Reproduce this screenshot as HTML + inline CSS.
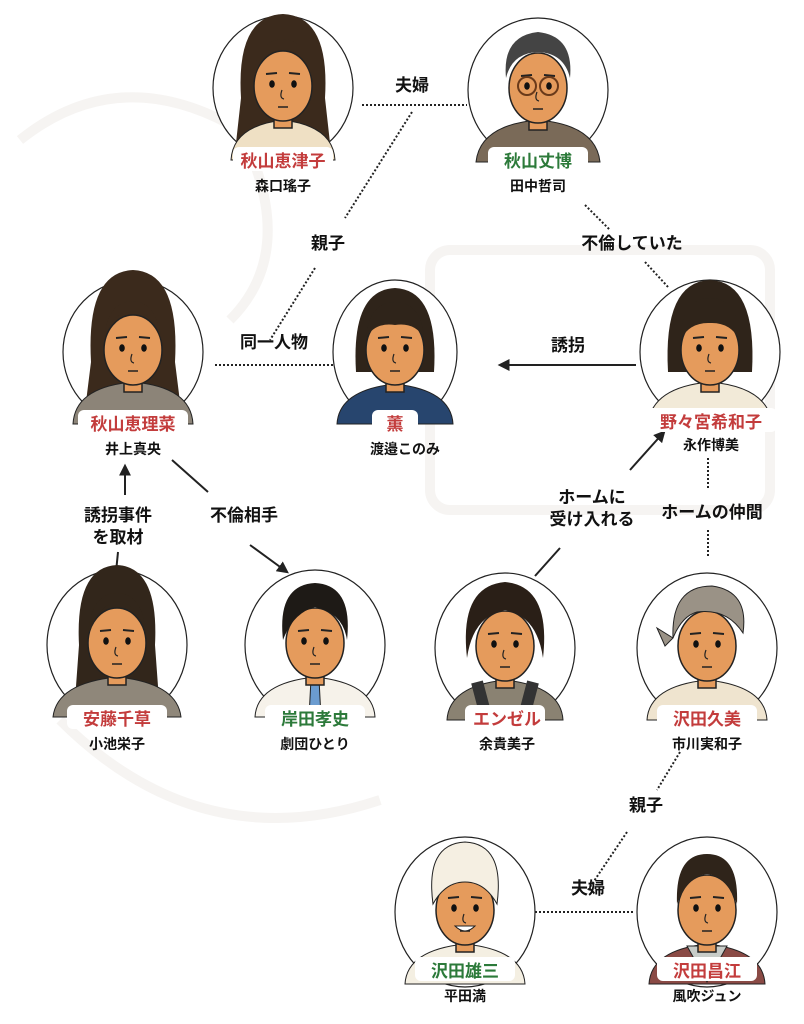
<!DOCTYPE html>
<html><head><meta charset="utf-8"><style>
html,body{margin:0;padding:0;background:#fff;}
svg{display:block}
text{font-family:"Liberation Sans","Noto Sans CJK JP",sans-serif;font-weight:bold;text-anchor:middle}
.n{font-size:17px}.r{fill:#c33c3c}.g{fill:#2c7a3a}.a{font-size:14px;fill:#111}.l{font-size:17px;fill:#111}
.c{fill:#fff;stroke:#222;stroke-width:1.2}
.d{stroke:#222;stroke-width:2;stroke-dasharray:2 2;fill:none}
.s{stroke:#222;stroke-width:2;fill:none}
.f{fill:#e59b5c;stroke:#222;stroke-width:1.5}
</style></head><body>
<svg width="804" height="1024" viewBox="0 0 804 1024" xmlns="http://www.w3.org/2000/svg">
<defs>
<marker id="ar" viewBox="0 0 10 10" refX="8" refY="5" markerWidth="6" markerHeight="6" orient="auto"><path d="M0,0 L10,5 L0,10 Z" fill="#222"/></marker>
<g id="face">
<rect x="-9" y="22" width="18" height="18" class="f"/>
<ellipse cx="0" cy="-2" rx="29" ry="35" class="f"/>
<ellipse cx="-11" cy="-4" rx="2.8" ry="3.8" fill="#111"/><ellipse cx="11" cy="-4" rx="2.8" ry="3.8" fill="#111"/>
<path d="M-17,-14 L-6,-15 M6,-15 L17,-14" stroke="#222" stroke-width="2"/>
<path d="M-1,2 Q-4,10 1,11" stroke="#222" fill="none" stroke-width="1.2"/>
<path d="M-5,19 L5,19" stroke="#222" stroke-width="1.5"/>
</g>
</defs>
<!-- faint watermark -->
<g fill="none" stroke="#f6f4f2" stroke-width="10">
<path d="M20,140 Q120,60 240,130 Q300,250 230,320"/>
<rect x="430" y="250" width="340" height="260" rx="20"/>
<path d="M60,720 Q200,860 380,800"/>
</g>

<!-- connectors -->
<path class="d" d="M362,105 L467,105"/>
<path class="d" d="M412,112 L345,218 M315,268 L270,340"/>
<path class="d" d="M585,205 L610,230 M645,262 L668,287"/>
<path class="d" d="M215,365 L333,365"/>
<path class="s" d="M636,365 L500,365" marker-end="url(#ar)"/>
<path class="s" d="M535,576 L560,548 M630,470 L664,432" marker-end="url(#ar)"/>
<path class="d" d="M708,458 L708,490 M708,530 L708,558"/>
<path class="s" d="M125,495 L125,466" marker-end="url(#ar)"/>
<path class="s" d="M118,552 L116,572"/>
<path class="s" d="M172,460 L208,492 M250,545 L287,572" marker-end="url(#ar)"/>
<path class="d" d="M680,752 L657,790 M627,832 L588,890"/>
<path class="d" d="M535,912 L635,912"/>

<!-- labels -->
<text class="l" x="412" y="91">夫婦</text>
<text class="l" x="328" y="249">親子</text>
<text class="l" x="632" y="249">不倫していた</text>
<text class="l" x="274" y="348">同一人物</text>
<text class="l" x="568" y="351">誘拐</text>
<text class="l" x="592" y="503">ホームに</text>
<text class="l" x="592" y="525">受け入れる</text>
<text class="l" x="712" y="518">ホームの仲間</text>
<text class="l" x="118" y="521">誘拐事件</text>
<text class="l" x="118" y="543">を取材</text>
<text class="l" x="244" y="521">不倫相手</text>
<text class="l" x="646" y="811">親子</text>
<text class="l" x="588" y="894">夫婦</text>

<g transform="translate(283,88)">
<ellipse class="c" cx="0" cy="0" rx="70" ry="72"/>
<path d="M-42,10 Q-47,-72 0,-74 Q47,-72 42,10 L47,55 L-47,55 Z" fill="#3b2a1c"/>
<path d="M-52,72 Q-50,38 0,32 Q50,38 52,72 Z" fill="#efe0c4" stroke="#222"/>
<use href="#face"/>
<path d="M-29,-10 Q-20,-42 5,-38 Q22,-36 29,-10 Q24,-48 0,-49 Q-27,-48 -29,-10Z" fill="#3b2a1c"/>
</g>
<g transform="translate(538,90)">
<ellipse class="c" cx="0" cy="0" rx="70" ry="72"/>
<path d="M-62,72 Q-58,35 0,30 Q58,35 62,72 Z" fill="#7a6a58" stroke="#222"/>
<use href="#face"/>
<path d="M-32,-12 Q-36,-54 0,-58 Q36,-54 32,-12 Q26,-37 0,-38 Q-26,-37 -32,-12Z" fill="#444"/>
<circle cx="-11" cy="-4" r="9" fill="none" stroke="#6a3a1a" stroke-width="2"/><circle cx="11" cy="-4" r="9" fill="none" stroke="#6a3a1a" stroke-width="2"/>
</g>
<g transform="translate(133,352)">
<ellipse class="c" cx="0" cy="0" rx="70" ry="72"/>
<path d="M-42,10 Q-47,-80 0,-82 Q47,-80 42,10 L47,50 L-47,50 Z" fill="#3b2a1c"/>
<path d="M-60,72 Q-58,35 0,30 Q58,35 60,72 Z" fill="#8c8478" stroke="#222"/>
<use href="#face"/>
<path d="M-29,-10 Q-22,-44 5,-40 Q22,-36 29,-10 Q24,-50 0,-51 Q-27,-50 -29,-10Z" fill="#3b2a1c"/>
</g>
<g transform="translate(395,352)">
<ellipse class="c" cx="0" cy="0" rx="62" ry="72"/>
<path d="M-39,20 Q-44,-62 0,-64 Q44,-62 39,20 Z" fill="#2f241a"/>
<path d="M-58,72 Q-56,38 0,32 Q56,38 58,72 Z" fill="#27456e" stroke="#222"/>
<use href="#face"/>
<path d="M-29,-14 Q-20,-30 0,-27 Q20,-30 29,-14 Q26,-50 0,-50 Q-26,-50 -29,-14Z" fill="#2f241a"/>
</g>
<g transform="translate(710,352)">
<ellipse class="c" cx="0" cy="0" rx="70" ry="72"/>
<path d="M-42,20 Q-47,-70 0,-72 Q47,-70 42,20 Z" fill="#2f241a"/>
<path d="M-62,72 Q-58,35 0,30 Q58,35 62,72 Z" fill="#f2ead8" stroke="#222"/>
<use href="#face"/>
<path d="M-30,-12 Q-20,-30 0,-29 Q20,-30 30,-12 Q28,-54 0,-54 Q-28,-54 -30,-12Z" fill="#2f241a"/>
</g>
<g transform="translate(117,645)">
<ellipse class="c" cx="0" cy="0" rx="70" ry="75"/>
<path d="M-38,0 Q-42,-78 0,-80 Q42,-78 38,0 L42,55 L-42,55 Z" fill="#32261b"/>
<path d="M-64,72 Q-60,38 0,32 Q60,38 64,72 Z" fill="#8f877a" stroke="#222"/>
<use href="#face"/>
<path d="M-29,-10 Q-18,-42 2,-44 Q22,-40 29,-10 Q26,-52 0,-52 Q-26,-52 -29,-10Z" fill="#32261b"/>
</g>
<g transform="translate(315,645)">
<ellipse class="c" cx="0" cy="0" rx="70" ry="75"/>
<path d="M-60,72 Q-58,38 0,32 Q58,38 60,72 Z" fill="#f6f2ea" stroke="#222"/>
<path d="M-4,34 L4,34 L6,72 L-6,72Z" fill="#6b9cd0" stroke="#222"/>
<use href="#face"/>
<path d="M-32,-5 Q-38,-60 0,-62 Q38,-60 32,-5 Q28,-32 0,-38 Q-22,-32 -32,-5Z" fill="#1e1a16"/>
</g>
<g transform="translate(505,648)">
<ellipse class="c" cx="0" cy="0" rx="70" ry="75"/>
<path d="M-58,72 Q-56,38 0,32 Q56,38 58,72 Z" fill="#8a8272" stroke="#222"/>
<path d="M-28,34 L-18,72 M28,34 L18,72" stroke="#333" stroke-width="12"/>
<use href="#face"/>
<path d="M-38,10 Q-46,-62 0,-66 Q46,-62 38,10 Q32,-32 0,-38 Q-32,-32 -38,10Z" fill="#2a1f17"/>
</g>
<g transform="translate(707,648)">
<ellipse class="c" cx="0" cy="0" rx="70" ry="75"/>
<path d="M-60,72 Q-58,38 0,32 Q58,38 60,72 Z" fill="#efe4cf" stroke="#222"/>
<use href="#face"/>
<path d="M-34,-10 Q-36,-62 5,-62 Q42,-57 36,-15 Q20,-40 -10,-36 Q-25,-32 -34,-10Z M-34,-10 L-50,-20 L-42,-2 Z" fill="#9a9286" stroke="#222"/>
</g>
<g transform="translate(465,912)">
<ellipse class="c" cx="0" cy="0" rx="70" ry="75"/>
<path d="M-60,72 Q-58,38 0,32 Q58,38 60,72 Z" fill="#f4efe2" stroke="#222"/>
<use href="#face"/>
<path d="M-32,-8 Q-40,-68 0,-70 Q40,-68 32,-8 Q20,-30 0,-30 Q-20,-30 -32,-8Z" fill="#f5efe2" stroke="#222"/>
<path d="M-10,14 Q0,24 10,14Z" fill="#fff" stroke="#222"/>
</g>
<g transform="translate(707,912)">
<ellipse class="c" cx="0" cy="0" rx="70" ry="75"/>
<path d="M-58,72 Q-56,38 0,32 Q56,38 58,72 Z" fill="#8a4a45" stroke="#222"/>
<path d="M-20,34 L0,70 L20,34 Z" fill="#c8ccc8" stroke="#222"/>
<use href="#face"/>
<path d="M-30,-8 Q-32,-58 0,-58 Q32,-58 30,-8 Q20,-36 0,-38 Q-20,-36 -30,-8Z" fill="#2f241a"/>
</g>

<g fill="#fff">
<rect x="233" y="147" width="100" height="24" rx="6"/>
<rect x="488" y="147" width="100" height="24" rx="6"/>
<rect x="78" y="410" width="110" height="24" rx="6"/>
<rect x="372" y="410" width="46" height="24" rx="6"/>
<rect x="645" y="408" width="132" height="24" rx="6"/>
<rect x="67" y="705" width="100" height="24" rx="6"/>
<rect x="265" y="705" width="100" height="24" rx="6"/>
<rect x="465" y="705" width="80" height="24" rx="6"/>
<rect x="657" y="705" width="100" height="24" rx="6"/>
<rect x="415" y="957" width="100" height="24" rx="6"/>
<rect x="657" y="957" width="100" height="24" rx="6"/>
</g>
<text class="n r" x="283" y="167">秋山恵津子</text><text class="a" x="283" y="191">森口瑤子</text>
<text class="n g" x="538" y="167">秋山丈博</text><text class="a" x="538" y="191">田中哲司</text>
<text class="n r" x="133" y="430">秋山恵理菜</text><text class="a" x="133" y="454">井上真央</text>
<text class="n r" x="395" y="430">薫</text><text class="a" x="405" y="454">渡邉このみ</text>
<text class="n r" x="711" y="428">野々宮希和子</text><text class="a" x="711" y="450">永作博美</text>
<text class="n r" x="117" y="725">安藤千草</text><text class="a" x="117" y="749">小池栄子</text>
<text class="n g" x="315" y="725">岸田孝史</text><text class="a" x="315" y="749">劇団ひとり</text>
<text class="n r" x="507" y="725">エンゼル</text><text class="a" x="507" y="749">余貴美子</text>
<text class="n r" x="707" y="725">沢田久美</text><text class="a" x="707" y="749">市川実和子</text>
<text class="n g" x="465" y="977">沢田雄三</text><text class="a" x="465" y="1001">平田満</text>
<text class="n r" x="707" y="977">沢田昌江</text><text class="a" x="707" y="1001">風吹ジュン</text>
</svg>
</body></html>
